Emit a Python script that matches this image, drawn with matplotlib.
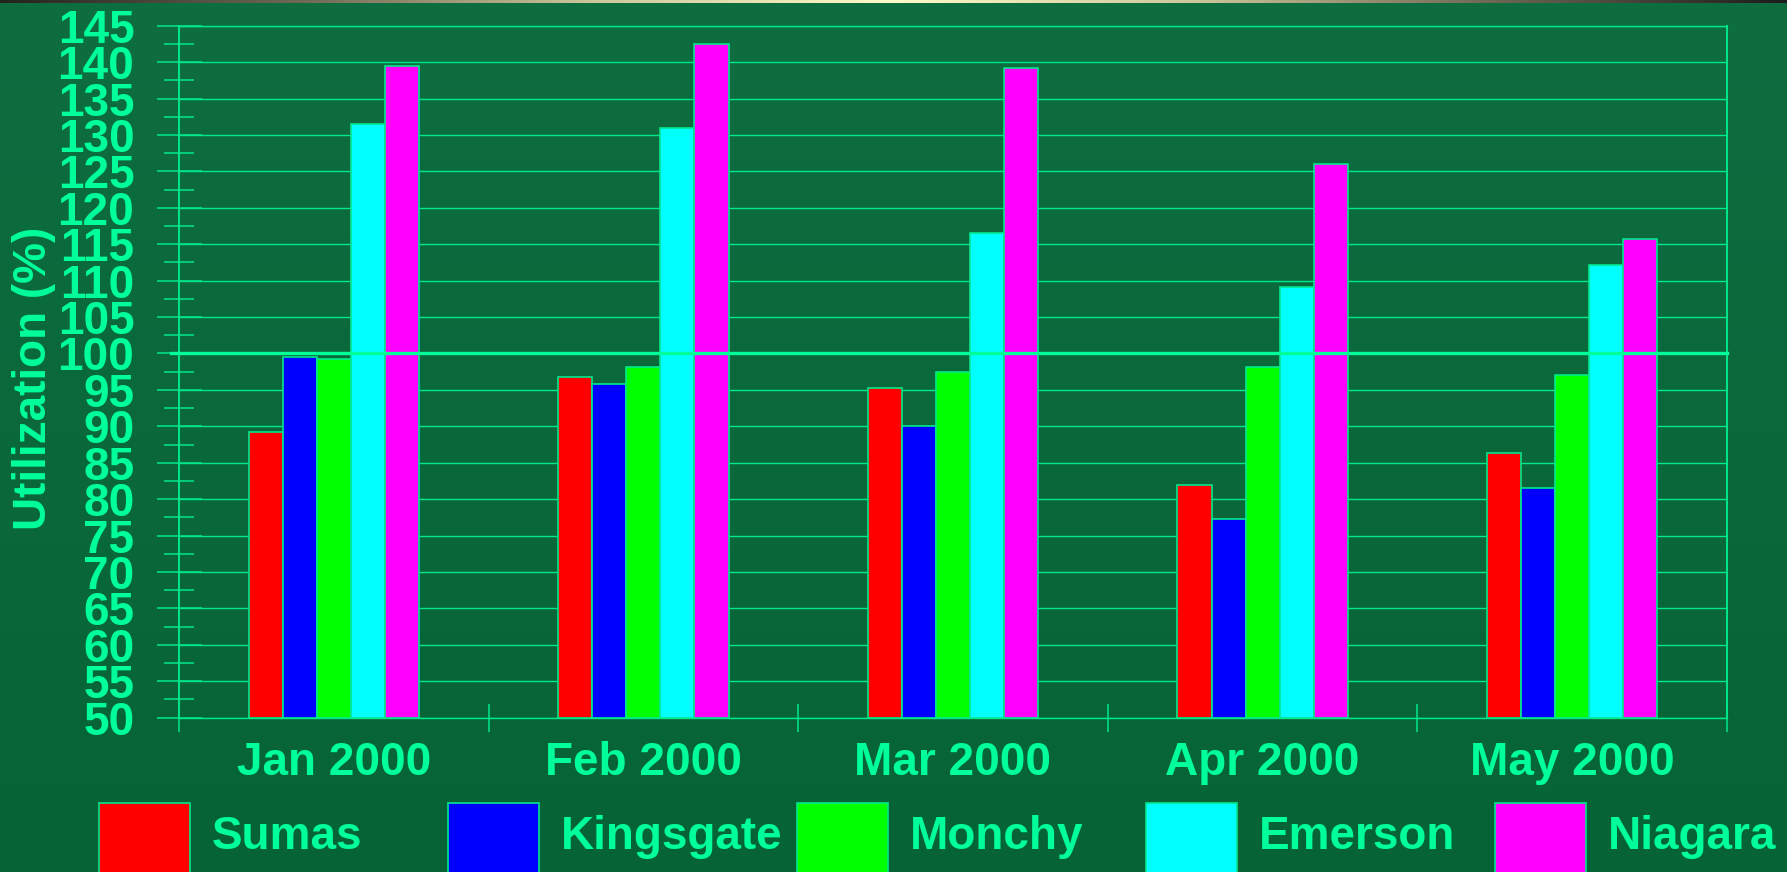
import numpy as np
import matplotlib
matplotlib.use("Agg")
import matplotlib.pyplot as plt
from matplotlib.patches import Rectangle
import matplotlib.transforms as mtransforms

plt.rcParams['font.family'] = ['Liberation Sans', 'DejaVu Sans']
plt.rcParams['font.weight'] = 'bold'

# data
months = ['Jan 2000', 'Feb 2000', 'Mar 2000', 'Apr 2000', 'May 2000']
stations = ['Sumas', 'Kingsgate', 'Monchy', 'Emerson', 'Niagara']
sumas = [89.2, 96.8, 95.2, 81.9, 86.3]
kingsgate = [99.5, 95.8, 90.0, 77.3, 81.6]
monchy = [99.2, 98.2, 97.5, 98.1, 97.0]
emerson = [131.5, 130.9, 116.6, 109.1, 112.2]
niagara = [139.4, 142.5, 139.2, 126.0, 115.7]
series = [sumas, kingsgate, monchy, emerson, niagara]
colors = ['#FF0000', '#0000FF', '#00FF00', '#00FFFF', '#FF00FF']

mint = '#00FF99'
grid_c = '#00E88C'

W, H = 1787, 872
fig = plt.figure(figsize=(W / 100, H / 100), dpi=100)

# background: vertical green gradient + thin strip at top
bg = fig.add_axes([0, 0, 1, 1], zorder=0)
bg.set_xlim(0, W)
bg.set_ylim(H, 0)
bg.axis('off')
top = np.array([14, 110, 64]) / 255
bot = np.array([6, 99, 54]) / 255
t = np.linspace(0, 1, 256)[:, None]
grad = top * (1 - t) + bot * t
bg.imshow(grad[:, None, :], extent=[0, W, H, 0], aspect='auto')
stops = np.array([[35, 35, 30], [110, 105, 85], [205, 200, 155],
                  [255, 250, 200], [205, 200, 155], [110, 105, 85],
                  [28, 28, 28]]) / 255
xs = np.linspace(0, 1, 400)
pos = np.linspace(0, 1, len(stops))
strip = np.stack([np.interp(xs, pos, stops[:, k]) for k in range(3)], axis=-1)
bg.imshow(strip[None, :, :], extent=[0, W, 3, 0], aspect='auto')

# main chart
ax = fig.add_axes([179 / W, (H - 717.7) / H, 1548 / W, 692 / H], zorder=1)
ax.set_facecolor('none')

x = np.arange(len(months))
bw = 0.11
for i, (vals, c) in enumerate(zip(series, colors)):
    ax.bar(x + (i - 2) * bw, np.array(vals) - 50, bw, bottom=50,
           color=c, edgecolor=grid_c, linewidth=1.2, zorder=2)

ax.set_xlim(-0.5, 4.5)
ax.set_ylim(50, 145)
ax.set_yticks(np.arange(50, 146, 5))
ax.set_yticks(np.arange(52.5, 145, 5), minor=True)
ax.set_xticks(x)
ax.set_xticklabels(months)
ax.set_xticks(np.arange(-0.5, 5, 1), minor=True)

ax.yaxis.grid(True, which='major', color=grid_c, linewidth=1.0, zorder=0)
ax.set_axisbelow(True)

ax.tick_params(axis='y', which='major', direction='inout', length=32.4,
               width=1.1, color=grid_c, pad=16, labelsize=33, labelcolor=mint)
ax.tick_params(axis='y', which='minor', direction='inout', length=21.6,
               width=1.1, color=grid_c)
ax.tick_params(axis='x', which='major', length=0, pad=17, labelsize=33,
               labelcolor=mint)
ax.tick_params(axis='x', which='minor', direction='inout', length=20,
               width=1.1, color=grid_c)
for lab in ax.get_xticklabels() + ax.get_yticklabels():
    lab.set_fontweight('bold')

for side in ['left', 'right', 'top', 'bottom']:
    ax.spines[side].set_color(grid_c)
ax.spines['left'].set_linewidth(1.4)
ax.spines['right'].set_linewidth(1.4)
ax.spines['top'].set_linewidth(1.0)
ax.spines['bottom'].set_linewidth(1.0)

# 100 % reference line
trans = mtransforms.blended_transform_factory(ax.transAxes, ax.transData)
ax.plot([-8 / 1548, 1], [100, 100], color='#00FF99', linewidth=2.4,
        transform=trans, clip_on=False, zorder=4)

ax.set_ylabel('Utilization (%)', fontsize=33, fontweight='bold', color=mint,
              va='center')
ax.yaxis.set_label_coords(-0.0937, 0.49)

# legend with fixed spacing
for i, (name, c) in enumerate(zip(stations, colors)):
    x0 = 99 + i * 349
    bg.add_patch(Rectangle((x0, 803), 91, 100, facecolor=c,
                           edgecolor=grid_c, linewidth=1.2))
    bg.text(x0 + 113, 837, name, fontsize=33, fontweight='bold', color=mint,
            ha='left', va='center')

fig.savefig('out.png', dpi=100)
